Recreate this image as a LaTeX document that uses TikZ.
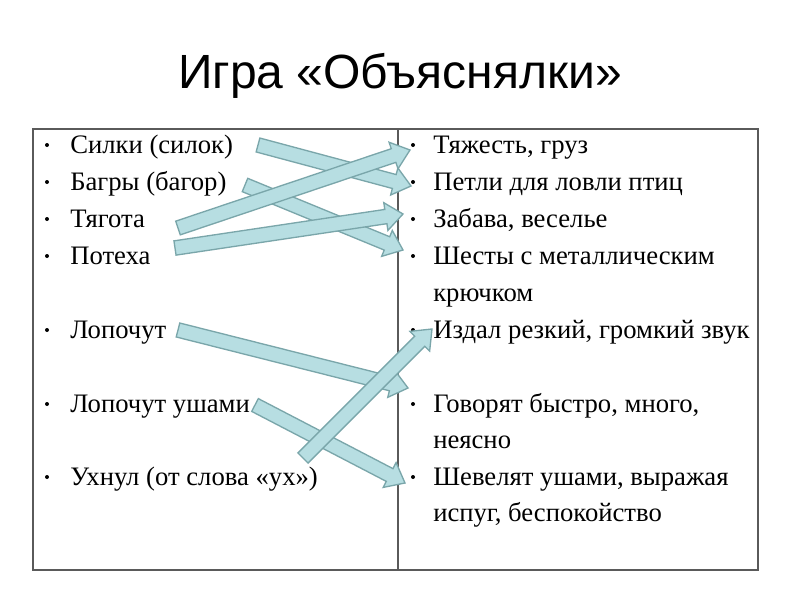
\documentclass[tikz,border=0pt]{standalone}
\usepackage{fontspec}
\setmainfont{Liberation Serif}
\newfontfamily\titlefont{Liberation Sans}
\usetikzlibrary{calc}
\definecolor{arrfill}{HTML}{B7DEE2}
\definecolor{arrline}{HTML}{7AA6AA}
\definecolor{framec}{HTML}{5A5A5A}
\tikzset{
  item/.style={anchor=base west, inner sep=0pt, font=\fontsize{20}{24}\selectfont},
  dotmark/.style={fill=black, circle, inner sep=0pt, minimum size=3pt},
  blockarrow/.style={fill=arrfill, draw=arrline, line width=1pt, line join=miter},
  frameline/.style={draw=framec, line width=1.1pt},
}
\newcommand{\barrow}[2]{%
  \coordinate (#1-#2-c) at ($(#2)!13pt!(#1)$);
  \draw[blockarrow] ($(#1)!5.4pt!90:(#2)$) -- ($(#1-#2-c)!5.4pt!90:(#2)$)
    -- ($(#1-#2-c)!10.5pt!90:(#2)$) -- (#2) -- ($(#1-#2-c)!10.5pt!-90:(#2)$)
    -- ($(#1-#2-c)!5.4pt!-90:(#2)$) -- ($(#1)!5.4pt!-90:(#2)$) -- cycle;}
\begin{document}
\begin{tikzpicture}[x=0.75pt,y=-0.75pt]
\useasboundingbox (0,0) rectangle (800,600);
\fill[white] (0,0) rectangle (800,600);
% title
\node[anchor=base, inner sep=0pt, font=\titlefont\fontsize{36}{42}\selectfont] (title) at (400,88) {Игра «Объяснялки»};
% table
\draw[frameline] (33,129) rectangle (758,570);
\draw[frameline] (398,129) -- (398,570);
% left column
\foreach \y in {153,190,227,264,338,412,485} \node[dotmark] at (47,\y-8) {};
\node[item] (l1) at (70,153) {Силки (силок)};
\node[item] (l2) at (70,190) {Багры (багор)};
\node[item] (l3) at (70,227) {Тягота};
\node[item] (l4) at (70,264) {Потеха};
\node[item] (l5) at (70,338) {Лопочут};
\node[item] (l6) at (70,412) {Лопочут ушами};
\node[item] (l7) at (70,485) {Ухнул (от слова «ух»)};
% right column
\foreach \y in {153,190,227,264,338,412,485} \node[dotmark] at (413,\y-8) {};
\node[item] (r1) at (433,153) {Тяжесть, груз};
\node[item] (r2) at (433,190) {Петли для ловли птиц};
\node[item] (r3) at (433,227) {Забава, веселье};
\node[item] (r4) at (433,264) {Шесты с металлическим};
\node[item] (r4b) at (433,301) {крючком};
\node[item] (r5) at (433,338) {Издал резкий, громкий звук};
\node[item] (r6) at (433,412) {Говорят быстро, много,};
\node[item] (r6b) at (433,448) {неясно};
\node[item] (r7) at (433,485) {Шевелят ушами, выражая};
\node[item] (r7b) at (433,521) {испуг, беспокойство};
% arrow ends
\coordinate (s1) at (258,145); \coordinate (t1) at (411,186);
\coordinate (s2) at (245,185); \coordinate (t2) at (403,250);
\coordinate (s3) at (178,228); \coordinate (t3) at (410,150);
\coordinate (s4) at (175,248); \coordinate (t4) at (403,214);
\coordinate (s5) at (178,330); \coordinate (t5) at (408,388);
\coordinate (s6) at (255,405); \coordinate (t6) at (405,483);
\coordinate (s7) at (303,458); \coordinate (t7) at (432,329);
\barrow{s1}{t1}
\barrow{s2}{t2}
\barrow{s3}{t3}
\barrow{s4}{t4}
\barrow{s5}{t5}
\barrow{s6}{t6}
\barrow{s7}{t7}
\end{tikzpicture}
\end{document}
